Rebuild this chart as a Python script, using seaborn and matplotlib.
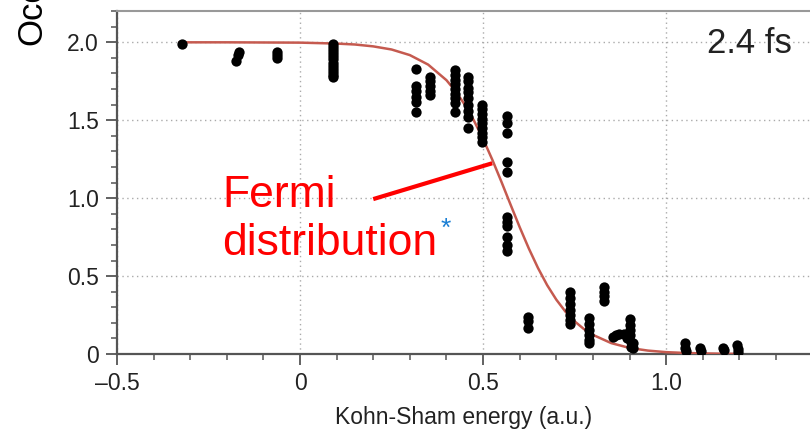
import numpy as np
import pandas as pd
import seaborn as sns
import matplotlib.pyplot as plt
from matplotlib.ticker import MultipleLocator, FuncFormatter

# --- DATA ---
# Kohn-Sham eigenvalues (a.u.) and their occupations at 2.4 fs
energy = (
    [-0.322]
    + [-0.168, -0.170, -0.175]
    + [-0.062] * 3
    + [0.090] * 12
    + [0.318] * 6
    + [0.355] * 5
    + [0.424] * 9
    + [0.459] * 9
    + [0.497] * 9
    + [0.566] * 11
    + [0.624] * 3
    + [0.738] * 7
    + [0.788] * 6
    + [0.830] * 4
    + [0.855, 0.862, 0.872, 0.885, 0.893, 0.900, 0.900, 0.900, 0.900, 0.905, 0.905, 0.910, 0.910]
    + [1.052, 1.052, 1.055, 1.093, 1.095, 1.155, 1.158, 1.193, 1.195, 1.195]
)
occupation = (
    [1.99]
    + [1.94, 1.92, 1.88]
    + [1.94, 1.92, 1.90]
    + [1.99, 1.97, 1.95, 1.93, 1.91, 1.89, 1.87, 1.85, 1.83, 1.81, 1.79, 1.78]
    + [1.83, 1.72, 1.69, 1.65, 1.62, 1.55]
    + [1.78, 1.75, 1.72, 1.69, 1.66]
    + [1.82, 1.79, 1.76, 1.73, 1.70, 1.67, 1.64, 1.61, 1.55]
    + [1.78, 1.75, 1.71, 1.68, 1.64, 1.60, 1.56, 1.52, 1.45]
    + [1.60, 1.57, 1.54, 1.51, 1.48, 1.45, 1.42, 1.39, 1.36]
    + [1.53, 1.48, 1.42, 1.23, 1.17, 0.88, 0.85, 0.82, 0.75, 0.70, 0.66]
    + [0.24, 0.21, 0.17]
    + [0.40, 0.36, 0.32, 0.28, 0.25, 0.22, 0.19]
    + [0.23, 0.19, 0.155, 0.12, 0.09, 0.07]
    + [0.43, 0.40, 0.37, 0.34]
    + [0.11, 0.12, 0.13, 0.13, 0.10, 0.225, 0.185, 0.155, 0.12, 0.08, 0.045, 0.07, 0.04]
    + [0.07, 0.04, 0.02, 0.04, 0.02, 0.04, 0.025, 0.06, 0.035, 0.01]
)

# Fermi distribution curve
fermi_energy = [-0.33, -0.2, -0.1, 0.0, 0.1, 0.15, 0.2, 0.25, 0.3, 0.35, 0.4, 0.425,
                0.45, 0.475, 0.5, 0.525, 0.55, 0.575, 0.6, 0.625, 0.65, 0.675, 0.7,
                0.725, 0.75, 0.775, 0.8, 0.85, 0.9, 0.95, 1.0, 1.05, 1.1, 1.15, 1.2]
fermi_occ = [2.0, 2.0, 1.999, 1.998, 1.992, 1.986, 1.974, 1.954, 1.918, 1.857, 1.757, 1.686,
             1.600, 1.498, 1.380, 1.248, 1.106, 0.959, 0.814, 0.677, 0.552, 0.442, 0.349,
             0.272, 0.210, 0.161, 0.123, 0.070, 0.039, 0.022, 0.012, 0.007, 0.004, 0.002, 0.001]

# annotation pointer: from text to curve
pointer_start = (0.20, 0.994)
pointer_end = (0.525, 1.224)

points = pd.DataFrame({"energy": energy, "occupation": occupation})
curve = pd.DataFrame({"energy": fermi_energy, "occupation": fermi_occ})

sns.set_theme(style="ticks")
plt.rcParams["font.family"] = ["Liberation Sans", "DejaVu Sans"]

fig = plt.figure(figsize=(8.1, 4.29), dpi=100)
ax = fig.add_axes([0.1444, 0.1748, 0.8556, 0.7992])

ax.grid(True, which="major", linestyle=(0, (1, 2.5)), color="#aaaaaa", linewidth=1.0)

sns.lineplot(data=curve, x="energy", y="occupation", ax=ax, color="#c55a4f",
             linewidth=1.8, zorder=3)
sns.scatterplot(data=points, x="energy", y="occupation", ax=ax, color="black",
                s=55, linewidth=0, zorder=4)

ax.set_xlim(-0.5, 1.393)
ax.set_ylim(0, 2.2)
ax.xaxis.set_major_locator(MultipleLocator(0.5))
ax.xaxis.set_minor_locator(MultipleLocator(0.1))
ax.yaxis.set_major_locator(MultipleLocator(0.5))
ax.yaxis.set_minor_locator(MultipleLocator(0.1))

def fmt(v, pos):
    if abs(v) < 1e-9:
        return "0"
    return f"{v:.1f}".replace("-", "\u2013")

ax.xaxis.set_major_formatter(FuncFormatter(fmt))
ax.yaxis.set_major_formatter(FuncFormatter(fmt))

ax.tick_params(axis="both", which="major", direction="out", length=8, width=1.3,
               color="#555555", labelsize=16.5, labelcolor="#222222", pad=5)
ax.tick_params(axis="both", which="minor", direction="out", length=4.5, width=1.1,
               color="#555555")

for side in ["left", "bottom"]:
    ax.spines[side].set_color("#555555")
    ax.spines[side].set_linewidth(1.6)
ax.spines["top"].set_color("#999999")
ax.spines["top"].set_linewidth(1.5)
ax.spines["right"].set_visible(False)

ax.set_xlabel("Kohn-Sham energy (a.u.)", fontsize=16.5, color="#222222", labelpad=8)
ax.set_ylabel("")
fig.text(0.0395, 0.895, "Occupation", rotation=90, ha="center", va="bottom",
         fontsize=25, color="black")

ax.text(1.344, 1.93, "2.4 fs", fontsize=25, ha="right", va="baseline", color="#222222")

ax.plot([pointer_start[0], pointer_end[0]], [pointer_start[1], pointer_end[1]],
        color="#ff0000", linewidth=3, solid_capstyle="butt", zorder=5)
ax.text(-0.213, 0.942, "Fermi", fontsize=32, color="#ff0000", ha="left", va="baseline")
ax.text(-0.213, 0.635, "distribution", fontsize=32, color="#ff0000", ha="left", va="baseline")
ax.text(0.398, 0.80, "*", fontsize=19, color="#1a7fd4", ha="center", va="center")

fig.savefig("out.png", dpi=100)
